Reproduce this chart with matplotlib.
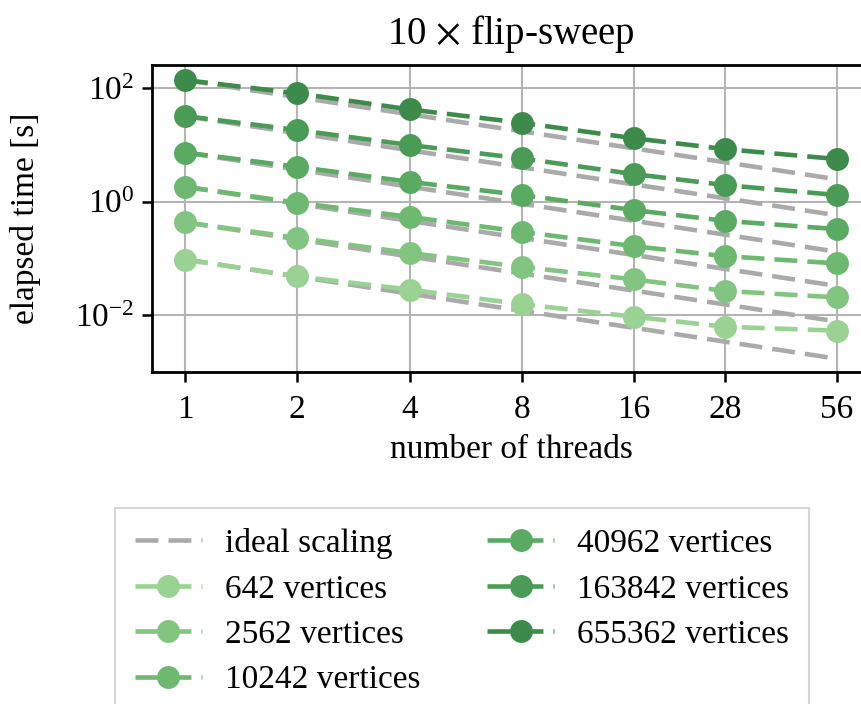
import matplotlib
matplotlib.use('Agg')
import matplotlib.pyplot as plt
from matplotlib.ticker import FixedLocator, NullLocator

plt.rcParams['font.family'] = ['Liberation Serif', 'DejaVu Serif']
plt.rcParams['mathtext.fontset'] = 'stix'

# data
threads = [1, 2, 4, 8, 16, 28, 56]
labels = ['642 vertices', '2562 vertices', '10242 vertices',
          '40962 vertices', '163842 vertices', '655362 vertices']
t_642 = [0.095, 0.048, 0.028, 0.0155, 0.0093, 0.0062, 0.0053]
t_2562 = [0.43, 0.229, 0.124, 0.0705, 0.0423, 0.0266, 0.0204]
t_10242 = [1.82, 0.95, 0.537, 0.292, 0.163, 0.109, 0.081]
t_40962 = [7.3, 4.09, 2.22, 1.30, 0.705, 0.457, 0.326]
t_163842 = [32.0, 18.2, 9.9, 5.75, 3.04, 1.95, 1.30]
t_655362 = [138.0, 80.7, 42.0, 24.4, 13.0, 8.4, 5.6]
series = [t_642, t_2562, t_10242, t_40962, t_163842, t_655362]

colors = ['#9ad293', '#82c580', '#6db970', '#5aab62', '#4a9b55', '#3d8b4a']
c_ideal = '#aaaaaa'
fs = 24

fig = plt.figure(figsize=(8.62, 7.04), dpi=100)
ax = fig.add_axes([152 / 862, 1 - 372 / 704, (870 - 152) / 862, (372 - 65) / 704])

dash = (5, 2.2)
for i, ys in enumerate(series):
    ideal = [ys[0] / n for n in threads]
    ax.plot(threads, ideal, color=c_ideal, lw=3.3, dashes=dash, zorder=2,
            label='ideal scaling' if i == 0 else None)

for ys, lab, c in zip(series, labels, colors):
    ax.plot(threads, ys, color=c, lw=3.3, dashes=dash, marker='o', ms=16.5,
            mec=c, mew=0, label=lab, zorder=3)

ax.set_xscale('log', base=2)
ax.set_yscale('log')
ax.set_xlim(2 ** -0.294, 56 * 2 ** 0.294)
ax.set_ylim(10 ** -3.005, 10 ** 2.406)
ax.xaxis.set_major_locator(FixedLocator(threads))
ax.set_xticklabels([str(n) for n in threads])
ax.xaxis.set_minor_locator(NullLocator())
ax.yaxis.set_major_locator(FixedLocator([1e-2, 1e0, 1e2]))
ax.yaxis.set_minor_locator(NullLocator())

ax.grid(True, color='#b4b4b4', lw=1.5, zorder=0)
ax.set_axisbelow(True)
for s in ax.spines.values():
    s.set_linewidth(2.0)
    s.set_color('black')
ax.tick_params(labelsize=fs, width=1.8, length=7, direction='out', pad=6)
ax.tick_params(axis='x', pad=9)

ax.set_xlabel('number of threads', fontsize=fs, labelpad=7)
ax.set_ylabel('elapsed time [s]', fontsize=fs, labelpad=24)
ax.set_title(r'10 $\times$ flip-sweep', fontsize=28, pad=15)

h, l = ax.get_legend_handles_labels()
leg = fig.legend(h, l, loc='upper left', bbox_to_anchor=(115 / 862, 1 - 508 / 704),
                 ncol=2, fontsize=fs, frameon=True, fancybox=False,
                 edgecolor='#cccccc', labelspacing=0.45, handlelength=2.0,
                 handletextpad=0.7, columnspacing=2.0, borderpad=0.6,
                 borderaxespad=0)
leg.get_frame().set_linewidth(1.5)

fig.savefig('out.png', dpi=100)
